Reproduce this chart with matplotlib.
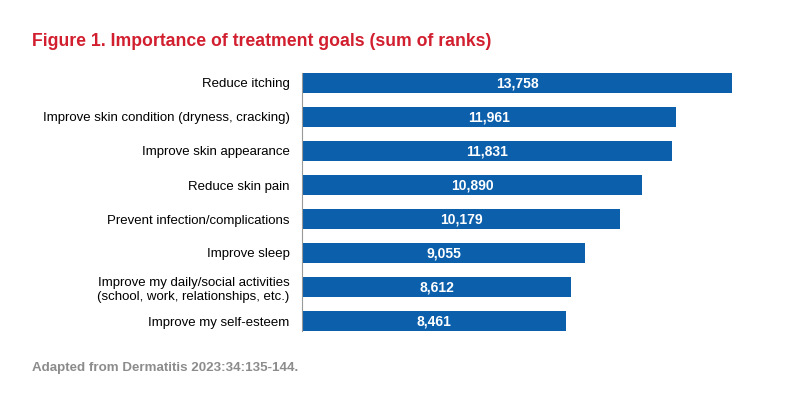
import matplotlib.pyplot as plt

goals = [
    "Reduce itching",
    "Improve skin condition (dryness, cracking)",
    "Improve skin appearance",
    "Reduce skin pain",
    "Prevent infection/complications",
    "Improve sleep",
    "Improve my daily/social activities\n(school, work, relationships, etc.)",
    "Improve my self-esteem",
]
rank_sums = [13758, 11961, 11831, 10890, 10179, 9055, 8612, 8461]

plt.rcParams['font.family'] = ['Liberation Sans', 'DejaVu Sans']

fig = plt.figure(figsize=(8, 4.11), dpi=100)
ax = fig.add_axes([302 / 800, 73 / 411, 430 / 800, 272 / 411])

bar_h = 0.56
ypos = list(range(len(goals)))
ax.barh(ypos, rank_sums, height=bar_h, color='#0b5fab')
for y, v in zip(ypos, rank_sums):
    ax.text(v / 2, y, f"{v:,}", ha='center', va='center', color='white',
            fontsize=10, fontweight='bold')

ax.set_yticks(ypos)
ax.set_yticklabels(goals, fontsize=9.5, linespacing=1.3)
ax.set_ylim(len(goals) - 0.5, -0.5)
ax.set_xlim(0, max(rank_sums))
ax.tick_params(axis='y', length=0, pad=9)
ax.set_xticks([])
for s in ['top', 'right', 'bottom']:
    ax.spines[s].set_visible(False)
ax.spines['left'].set_color('#999999')
ax.spines['left'].set_linewidth(0.8)
ax.spines['left'].set_bounds(-bar_h / 2, len(goals) - 1 + bar_h / 2)

fig.text(32 / 800, 1 - 42 / 411, "Figure 1. Importance of treatment goals (sum of ranks)",
         color='#d21f2f', fontsize=12.7, fontweight='bold', va='center', ha='left')
fig.text(32 / 800, 1 - 368 / 411, "Adapted from Dermatitis 2023:34:135-144.",
         color='#8c8c8c', fontsize=9.6, fontweight='bold', va='center', ha='left')

fig.savefig('out.png', dpi=100)
